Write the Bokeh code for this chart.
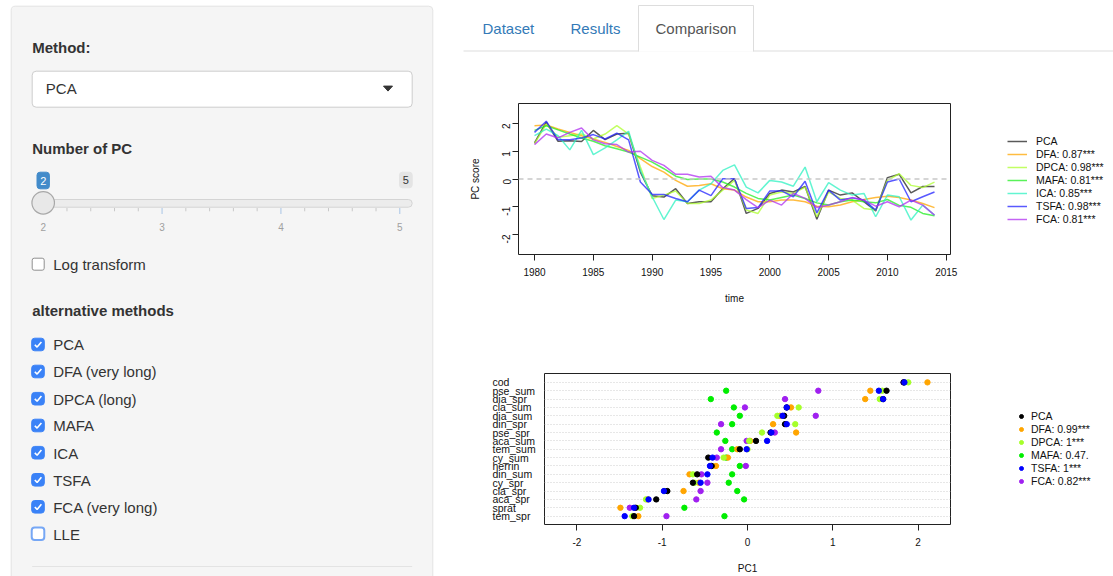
import math
from bokeh.plotting import figure
from bokeh.models import (Range1d, FixedTicker, Span, Legend, LegendItem,
                          BoxAnnotation, Grid)
from bokeh.layouts import row, column
from bokeh.core.properties import value
from bokeh.embed import file_html
from bokeh.resources import INLINE

FONT = "Liberation Sans"
NAN = float("nan")

# ---------------- data: top chart (PC scores over time) ----------------
years = list(range(1980, 2015))
pca = [1.30, 2.05, 1.36, 1.38, 1.35, 1.75, 1.42, 1.62, 1.65, 0.25,
       -0.60, -0.65, -0.35, -0.88, -0.82, -0.82, -0.35, 0.02, -1.24, -1.06,
       -0.52, -0.40, -0.47, -0.27, -1.45, -0.40, -0.58, -0.50, -0.82, -1.15,
       0.05, 0.17, -0.50, -0.27, -0.27]
dfa = [1.92, 1.95, 1.80, 1.68, 1.56, 1.44, 1.32, 1.17, 1.03, 0.73,
       0.45, 0.25, -0.05, -0.26, -0.23, -0.17, -0.35, -0.40, -0.65, -0.82,
       -0.82, -0.76, -0.76, -0.82, -0.98, -1.00, -0.94, -0.82, -0.74, -0.67,
       -0.62, -0.67, -0.76, -0.88, -1.03]
dpca = [1.27, 1.98, 1.50, 1.56, 1.62, 1.44, 1.62, 1.92, 1.62, 0.43,
        -0.70, -0.58, -0.43, -0.88, -0.88, -0.76, -0.40, -0.05, -1.12, -1.24,
        -0.58, -0.47, -0.52, -0.29, -1.36, -0.47, -0.70, -0.76, -1.06, -1.12,
        -0.05, 0.19, -0.23, -0.31, -0.11]
mafa = [1.75, 1.92, 1.77, 1.62, 1.48, 1.36, 1.20, 1.09, 0.97, 0.79,
        0.61, 0.37, 0.10, -0.02, 0.00, 0.00, -0.11, -0.29, -0.52, -0.70,
        -0.76, -0.67, -0.58, -0.70, -0.86, -0.94, -0.82, -0.76, -0.82, -0.86,
        -0.74, -0.95, -1.02, -1.24, -1.32]
ica = [1.56, 1.80, 1.56, 1.05, 1.75, 0.88, 1.12, 1.41, 1.72, 0.31,
       -0.64, -1.46, -0.76, -0.82, -0.40, -0.17, 0.31, 0.51, -0.29, -0.50,
       -0.05, -0.11, -0.26, 0.43, -0.82, -0.13, -0.40, -0.58, -0.52, -1.36,
       -0.58, -0.64, -1.48, -0.94, -1.30]
tsfa = [1.68, 2.08, 1.41, 1.41, 1.48, 1.60, 1.44, 1.65, 1.41, -0.11,
        -0.55, -0.56, -0.70, -0.82, -0.40, -0.60, 0.01, 0.01, -1.06, -1.03,
        -0.43, -0.43, -0.64, -0.08, -1.22, -0.40, -0.76, -0.68, -0.76, -1.12,
        -0.11, 0.00, -0.82, -0.64, -0.47]
fca = [1.24, 1.62, 1.48, 1.68, 1.84, 1.41, 1.27, 1.24, 0.97, 1.00,
       0.67, 0.49, 0.17, 0.17, 0.07, 0.10, -0.31, -0.40, -0.74, -1.03,
       -0.76, -0.94, -0.52, -0.70, -1.03, -0.94, -0.82, -0.67, -0.76, -0.98,
       -0.82, -1.00, -0.76, -0.94, -1.30]
ts_labels = ["PCA", "DFA: 0.87***", "DPCA: 0.98***", "MAFA: 0.81***",
             "ICA: 0.85***", "TSFA: 0.98***", "FCA: 0.81***"]
ts_colors = ["#222222", "#FFA500", "#ADFF2F", "#22EE22", "#2EF2C2", "#2222FF", "#B030F0"]
year_ticks = [1980, 1985, 1990, 1995, 2000, 2005, 2010, 2015]
score_ticks = [-2, -1, 0, 1, 2]

# ---------------- data: bottom chart (PC1 loadings) ----------------
variables = ["cod", "pse_sum", "dia_spr", "cla_sum", "dia_sum", "din_spr", "pse_spr",
             "aca_sum", "tem_sum", "cy_sum", "herrin", "din_sum", "cy_spr", "cla_spr",
             "aca_spr", "sprat", "tem_spr"]
ld_pca = [1.83, 1.63, 1.59, 0.46, 0.43, 0.44, 0.27, 0.10, -0.09, -0.46, -0.42, -0.59,
          -0.64, -0.94, -1.07, -1.31, -1.33]
ld_dfa = [2.11, 1.44, 1.38, 0.51, 0.38, 0.30, 0.57, 0.03, -0.12, -0.23, -0.37, -0.68,
          -0.57, -0.75, -1.17, -1.49, -1.28]
ld_dpca = [1.885, 1.58, 1.55, 0.60, 0.35, 0.56, 0.17, 0.02, 0.00, -0.28, -0.43, -0.64,
           -0.62, -0.97, -1.19, -1.26, -1.35]
ld_mafa = [1.84, -0.25, -0.43, -0.16, -0.09, -0.18, -0.36, -0.26, -0.18, -0.25, -0.09, -0.18,
           -0.22, -0.12, -0.04, -0.74, -0.27]
ld_tsfa = [1.84, 1.54, 1.59, 0.46, 0.41, 0.46, 0.28, 0.23, -0.01, -0.41, -0.44, -0.47,
           -0.55, -0.98, -1.16, -1.33, -1.44]
ld_fca = [1.83, 0.83, 0.44, -0.03, 0.80, -0.31, 0.32, -0.01, -0.31, -0.36, -0.02, -0.54,
          -0.47, -0.55, -0.60, -1.38, -0.95]
ld_labels = ["PCA", "DFA: 0.99***", "DPCA: 1***", "MAFA: 0.47.", "TSFA: 1***", "FCA: 0.82***"]
ld_colors = ["#000000", "#FFA500", "#A6FF2A", "#00EE00", "#0000FF", "#A020F0"]
pc1_ticks = [-2, -1, 0, 1, 2]

# ---------------- UI texts ----------------
method_choice = "PCA"
slider_min, slider_max, slider_val = 2, 5, 2
alt_methods = ["PCA", "DFA (very long)", "DPCA (long)", "MAFA", "ICA", "TSFA",
               "FCA (very long)", "LLE"]
alt_checked = [True, True, True, True, True, True, True, False]
tab_names = ["Dataset", "Results", "Comparison"]


def chrome_fig(w, h, x0, x1, y0, y1, **kw):
    f = figure(width=w, height=h, x_range=Range1d(x0, x1), y_range=Range1d(y1, y0),
               x_axis_type=None, y_axis_type=None, toolbar_location=None,
               output_backend="svg", min_border=0, min_border_left=0, min_border_right=0,
               min_border_top=0, min_border_bottom=0, frame_align=False, **kw)
    f.outline_line_color = None
    f.background_fill_color = "white"
    f.border_fill_color = "white"
    return f


def txt(f, x, y, s, size="15px", style="normal", color="#333333", align="left"):
    f.text(x=[x], y=[y], text=[s], text_font=value(FONT), text_font_size=size,
           text_font_style=style, text_color=color, text_align=align,
           text_baseline="middle")


def box(f, l, r, t, b, fill, line, radius=4, lw=1):
    f.add_layout(BoxAnnotation(left=l, right=r, top=t, bottom=b, fill_color=fill,
                               fill_alpha=1, line_color=line, line_alpha=1, line_width=lw,
                               border_radius=radius, level="underlay"))


# ---------------- sidebar ----------------
side = chrome_fig(448, 576, 0, 448, 0, 576)
box(side, 10.7, 432.3, 5.7, 620, "#f5f5f5", "#e3e3e3")
txt(side, 31.7, 46.7, "Method:", style="bold")
box(side, 31.7, 411.7, 70.7, 106.7, "white", "#cccccc")
txt(side, 45.3, 88.3, method_choice)
side.patch(x=[383, 392, 387.5], y=[85.6, 85.6, 90.6], fill_color="#333333", line_color="#333333")
txt(side, 31.7, 147.7, "Number of PC", style="bold")
x_lo, x_hi = 42.7, 399.3


def sx(v):
    return x_lo + (v - slider_min) * (x_hi - x_lo) / (slider_max - slider_min)


box(side, 31.7, 411.7, 199.0, 206.7, "#ececec", "#d4d4d4", radius=4)
steps = [slider_min + i * 0.2 for i in range(16)]
minor_x = [sx(v) for v in steps if abs(v - round(v)) > 1e-6]
major_vals = list(range(slider_min, slider_max + 1))
side.segment(x0=minor_x, y0=[207.5] * len(minor_x), x1=minor_x, y1=[210.8] * len(minor_x),
             line_color="#c8c8c8", line_width=1)
side.segment(x0=[sx(v) for v in major_vals], y0=[207.5] * 4, x1=[sx(v) for v in major_vals],
             y1=[213.5] * 4, line_color="#a9c5e6", line_width=1)
for v in major_vals:
    txt(side, sx(v), 226.7, str(v), size="10px", color="#a0a0a0", align="center")
box(side, sx(slider_val) - 6.2, sx(slider_val) + 6.2, 171.7, 188.3, "#428bca", "#428bca", radius=3)
txt(side, sx(slider_val), 180.3, str(slider_val), size="11px", color="white", align="center")
box(side, 399.0, 411.7, 171.7, 187.3, "#e4e4e4", "#e4e4e4", radius=3)
txt(side, 405.3, 179.8, str(slider_max), size="11px", color="#333333", align="center")
side.scatter(x=[sx(slider_val)], y=[202.3], size=22.5, fill_color="#e8e8e8",
             line_color="#a8a8a8", line_width=1.2)
box(side, 31.7, 43.7, 257.7, 269.7, "white", "#8f8f8f", radius=2)
txt(side, 52.7, 263.5, "Log transform")
txt(side, 31.7, 310.0, "alternative methods", style="bold")
row_y = [344.0, 371.0, 398.2, 425.0, 452.2, 479.3, 506.3, 533.3]
for lab, chk, cy in zip(alt_methods, alt_checked, row_y):
    if chk:
        box(side, 31.2, 43.8, cy - 6.3, cy + 6.3, "#3a82f7", "#3a82f7", radius=3)
        side.line(x=[34.3, 36.6, 40.9], y=[cy + 0.2, cy + 2.6, cy - 2.6], line_color="white",
                  line_width=1.6)
    else:
        box(side, 31.2, 43.8, cy - 6.3, cy + 6.3, "white", "#76a7f5", radius=3, lw=2)
    txt(side, 52.7, cy + 0.3, lab)
side.line(x=[31.7, 411.7], y=[566.0, 566.0], line_color="#e3e3e3", line_width=1)

# ---------------- tabs ----------------
tabs = chrome_fig(665, 95, 448, 1113, 0, 95)
tabs.line(x=[463, 1113], y=[50.5, 50.5], line_color="#dddddd", line_width=1)
tabs.quad(left=[638], right=[753], top=[4], bottom=[51.2], fill_color="white", line_color=None)
tabs.line(x=[638, 638, 753, 753], y=[51, 5, 5, 51], line_color="#dddddd", line_width=1)
tab_x = [482, 570, 655]
tab_col = ["#337ab7", "#337ab7", "#555555"]
for name, x, c in zip(tab_names, tab_x, tab_col):
    txt(tabs, x, 28.0, name, color=c)


def style_axis(ax, ticks):
    ax.axis_line_color = None
    ax.major_tick_line_color = "#222222"
    ax.major_tick_out = 6
    ax.major_tick_in = 0
    ax.minor_tick_line_color = None
    ax.major_label_text_font = FONT
    ax.major_label_text_font_size = "10px"
    ax.major_label_text_color = "#111111"
    ax.axis_label_text_font = FONT
    ax.axis_label_text_font_size = "10px"
    ax.axis_label_text_font_style = "normal"
    ax.axis_label_text_color = "#111111"
    ax.ticker = FixedTicker(ticks=ticks)
    ax.major_label_overrides = {t: str(t) for t in ticks}


# ---------------- top chart ----------------
p1 = figure(frame_width=432, frame_height=151, x_range=Range1d(1978.64, 2015.36),
            y_range=Range1d(-2.72, 2.72), toolbar_location=None, output_backend="svg",
            min_border_left=70, min_border_right=12, min_border_top=8, min_border_bottom=60,
            frame_align=False)
p1.outline_line_color = "#222222"
p1.grid.visible = False
p1.border_fill_color = "white"
p1.add_layout(Span(location=0, dimension="width", line_color="#c8c8c8", line_dash="5 4",
                   line_width=1.5))
series = [pca, dfa, dpca, mafa, ica, tsfa, fca]
for s, c in zip(series, ts_colors):
    p1.line(x=years, y=s, line_color=c, line_width=1.5, line_alpha=0.75)
style_axis(p1.xaxis[0], year_ticks)
style_axis(p1.yaxis[0], score_ticks)
p1.yaxis.major_label_orientation = math.pi / 2
p1.xaxis.axis_label = "time"
p1.yaxis.axis_label = "PC score"
p1.xaxis.major_label_standoff = 7
p1.xaxis.axis_label_standoff = 14
p1.yaxis.major_label_standoff = 6
p1.yaxis.axis_label_standoff = 15

# legend panel of the top chart (key swatches only, no data drawn)
lf1 = chrome_fig(151, 219, 0, 151, 0, 219)
key1 = [lf1.line(x=[NAN], y=[NAN], line_color=c, line_width=1.5, line_alpha=0.75)
        for c in ts_colors]
lf1.add_layout(Legend(items=[LegendItem(label=l, renderers=[r]) for l, r in zip(ts_labels, key1)],
                      location=(45, 89), orientation="vertical", margin=0, padding=10, spacing=1,
                      glyph_width=20, glyph_height=12, label_height=12, label_standoff=9,
                      label_text_font=FONT, label_text_font_size="10.5px",
                      label_text_color="#111111", border_line_color=None,
                      background_fill_alpha=0))

# ---------------- bottom chart ----------------
rows = list(range(len(variables), 0, -1))
row_range = Range1d(0, 18.06)
p2 = figure(frame_width=406, frame_height=151, x_range=Range1d(-2.38, 2.38),
            y_range=row_range,
            y_axis_type=None, toolbar_location=None, output_backend="svg",
            min_border_left=0, min_border_right=10, min_border_top=59, min_border_bottom=52,
            frame_align=False)
p2.outline_line_color = "#222222"
p2.xgrid.visible = False
p2.border_fill_color = "white"
p2.add_layout(Grid(dimension=1, ticker=FixedTicker(ticks=rows), grid_line_color="#cfcfcf",
                   grid_line_dash="1 2", grid_line_width=1))
style_axis(p2.xaxis[0], pc1_ticks)
p2.xaxis.axis_label = "PC1"
p2.xaxis.major_label_standoff = 7
p2.xaxis.axis_label_standoff = 14
loadings = [ld_pca, ld_dfa, ld_dpca, ld_mafa, ld_tsfa, ld_fca]
draw_order = [3, 5, 1, 2, 0, 4]
for i in draw_order:
    p2.scatter(x=loadings[i], y=rows, size=5.4, fill_color=ld_colors[i],
               line_color=ld_colors[i])

# row-name panel sharing the bottom chart's row scale
names = figure(frame_width=96, frame_height=151, x_range=Range1d(0, 96), y_range=row_range,
               x_axis_type=None, y_axis_type=None, toolbar_location=None,
               output_backend="svg", min_border=0, min_border_left=0, min_border_right=0,
               min_border_top=59, min_border_bottom=52, frame_align=False)
names.outline_line_color = None
names.text(x=[44] * len(variables), y=rows, text=variables, text_font=value(FONT),
           text_font_size="10.5px", text_color="#111111", text_align="left",
           text_baseline="middle")

lf2 = chrome_fig(153, 262, 0, 153, 0, 262)
key2 = [lf2.scatter(x=[NAN], y=[NAN], size=5.4, fill_color=c, line_color=c) for c in ld_colors]
lf2.add_layout(Legend(items=[LegendItem(label=l, renderers=[r]) for l, r in zip(ld_labels, key2)],
                      location=(56, 89), orientation="vertical", margin=0, padding=10, spacing=1,
                      glyph_width=10, glyph_height=12, label_height=12, label_standoff=5,
                      label_text_font=FONT, label_text_font_size="10.5px",
                      label_text_color="#111111", border_line_color=None,
                      background_fill_alpha=0))

main = column(tabs, row(p1, lf1, spacing=0), row(names, p2, lf2, spacing=0), spacing=0)
page = row(side, main, spacing=0)
open("out.html", "w").write(file_html(page, INLINE))
